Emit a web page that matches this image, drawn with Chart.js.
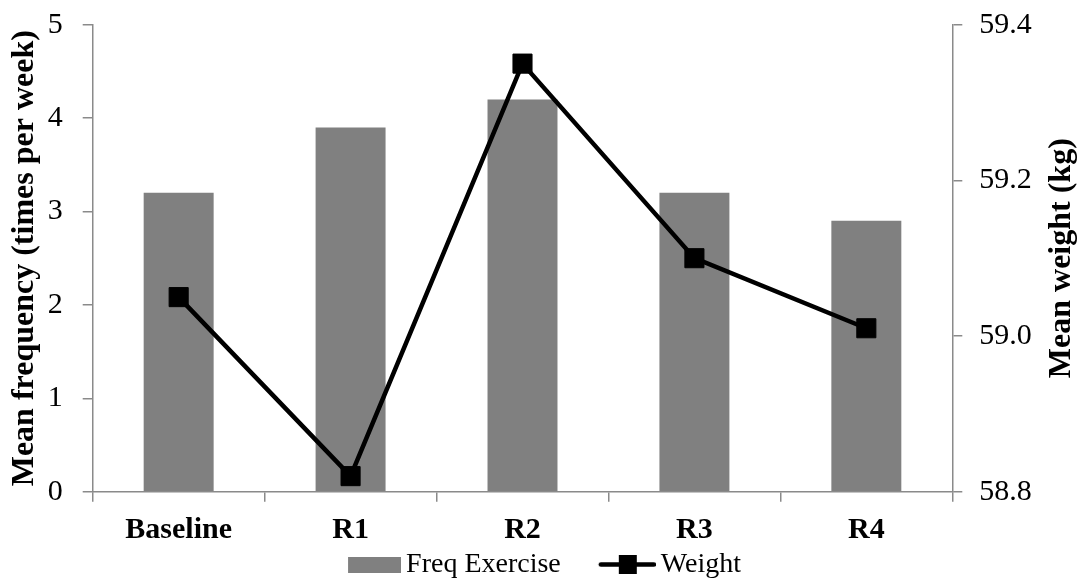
<!DOCTYPE html>
<html>
<head>
<meta charset="utf-8">
<title>Exercise frequency and weight</title>
<script src="https://cdn.jsdelivr.net/npm/chart.js@4.4.1/dist/chart.umd.min.js"></script>
<style>
  html, body { margin: 0; padding: 0; background: #ffffff; }
  canvas { display: block; }
</style>
</head>
<body>
<canvas id="chart" width="1086" height="581"></canvas>
<script>
// Survey rounds
const categories = ['Baseline', 'R1', 'R2', 'R3', 'R4'];
// Mean exercise frequency (times per week)
const freqExercise = [3.2, 3.9, 4.2, 3.2, 2.9];
// Mean body weight (kg)
const weightKg = [59.05, 58.82, 59.35, 59.10, 59.01];
// Axis tick values
const freqTicks = [0, 1, 2, 3, 4, 5];
const weightTicks = [58.8, 59.0, 59.2, 59.4];

const SERIF = '"Liberation Serif", "Times New Roman", Times, serif';
const AXIS_GREY = '#8a8a8a';
const BAR_GREY = '#808080';

Chart.defaults.font.family = SERIF;
Chart.defaults.color = '#000000';

// Legend swatches: a grey block for the bars, a line with a square marker for the weight series
function makeSwatch(kind) {
  const cv = document.createElement('canvas');
  cv.width = 94;
  cv.height = 25;
  const g = cv.getContext('2d');
  if (kind === 'bar') {
    g.fillStyle = BAR_GREY;
    g.fillRect(41, 5, 53, 16);
  } else {
    g.strokeStyle = '#000000';
    g.lineWidth = 4.5;
    g.lineCap = 'round';
    g.beginPath();
    g.moveTo(39, 12.5);
    g.lineTo(92, 12.5);
    g.stroke();
    g.fillStyle = '#000000';
    g.fillRect(57, 3, 18, 19);
  }
  return cv;
}
const barSwatch = makeSwatch('bar');
const lineSwatch = makeSwatch('line');

// Vertical axes keep their labels inside the plot height, so they ask for no extra room
function fixVerticalAxis(width) {
  return function (scale) {
    scale.width = width;
    scale.paddingTop = 0;
    scale.paddingBottom = 0;
  };
}

// Right-hand axis title, reading bottom to top like the left one
const weightAxisTitle = {
  id: 'weightAxisTitle',
  afterDraw(chart) {
    const s = chart.scales.y1;
    const ctx = chart.ctx;
    ctx.save();
    ctx.font = 'bold 32px ' + SERIF;
    ctx.fillStyle = '#000000';
    ctx.textAlign = 'center';
    ctx.textBaseline = 'middle';
    ctx.translate(s.right + 4.5, (s.top + s.bottom) / 2);
    ctx.rotate(-Math.PI / 2);
    ctx.fillText('Mean weight (kg)', 0, 0);
    ctx.restore();
  }
};

new Chart(document.getElementById('chart'), {
  type: 'bar',
  data: {
    labels: categories,
    datasets: [
      {
        type: 'line',
        label: 'Weight',
        data: weightKg,
        yAxisID: 'y1',
        borderColor: '#000000',
        backgroundColor: '#000000',
        borderWidth: 4.5,
        pointStyle: 'rect',
        pointRadius: 13.5,
        pointBorderWidth: 1,
        pointBackgroundColor: '#000000',
        pointBorderColor: '#000000',
        tension: 0,
        order: 0
      },
      {
        type: 'bar',
        label: 'Freq Exercise',
        data: freqExercise,
        yAxisID: 'y',
        backgroundColor: BAR_GREY,
        borderWidth: 0,
        categoryPercentage: 1,
        barPercentage: 0.407,
        order: 1
      }
    ]
  },
  options: {
    responsive: false,
    devicePixelRatio: 1,
    animation: false,
    layout: { padding: { top: 24.7, left: 0, right: 29, bottom: -7.5 } },
    plugins: {
      tooltip: { enabled: false },
      legend: {
        position: 'bottom',
        align: 'center',
        labels: {
          usePointStyle: true,
          pointStyleWidth: 76,
          padding: 10,
          color: '#000000',
          font: { size: 28, family: SERIF },
          generateLabels: () => [
            { text: 'Freq Exercise', pointStyle: barSwatch, fillStyle: BAR_GREY, strokeStyle: BAR_GREY, lineWidth: 0, hidden: false, datasetIndex: 1, fontColor: '#000000' },
            { text: 'Weight', pointStyle: lineSwatch, fillStyle: '#000000', strokeStyle: '#000000', lineWidth: 0, hidden: false, datasetIndex: 0, fontColor: '#000000' }
          ]
        }
      }
    },
    scales: {
      x: {
        offset: true,
        grid: { offset: true, drawOnChartArea: false, drawTicks: true, tickLength: 10, color: AXIS_GREY, lineWidth: 1.5 },
        border: { display: true, color: AXIS_GREY, width: 1.5 },
        ticks: { padding: 11, color: '#000000', font: { size: 30, weight: 'bold', family: SERIF, lineHeight: 1.2 } },
        afterFit(scale) { scale.height = 48.8; }
      },
      y: {
        position: 'left',
        min: 0,
        max: 5,
        afterBuildTicks(scale) { scale.ticks = freqTicks.map(v => ({ value: v })); },
        grid: { drawOnChartArea: false, drawTicks: true, tickLength: 10, color: AXIS_GREY, lineWidth: 1.5 },
        border: { display: true, color: AXIS_GREY, width: 1.5 },
        ticks: { padding: 20, color: '#000000', font: { size: 30, family: SERIF } },
        title: {
          display: true,
          text: 'Mean frequency (times per week)',
          color: '#000000',
          font: { size: 32, weight: 'bold', family: SERIF, lineHeight: 1.2 },
          padding: { top: 6, bottom: 0 }
        },
        afterFit: fixVerticalAxis(92.7)
      },
      y1: {
        position: 'right',
        min: 58.8,
        max: 59.4,
        afterBuildTicks(scale) { scale.ticks = weightTicks.map(v => ({ value: v })); },
        grid: { drawOnChartArea: false, drawTicks: true, tickLength: 10, color: AXIS_GREY, lineWidth: 1.5 },
        border: { display: true, color: AXIS_GREY, width: 1.5 },
        ticks: { padding: 17, color: '#000000', font: { size: 30, family: SERIF }, callback: v => Number(v).toFixed(1) },
        afterFit: fixVerticalAxis(1086 - 29 - 952.3)
      }
    }
  },
  plugins: [weightAxisTitle]
});
</script>
</body>
</html>
